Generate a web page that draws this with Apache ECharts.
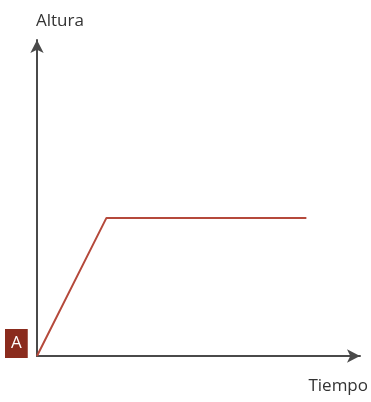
<!DOCTYPE html>
<html>
<head>
<meta charset="utf-8">
<script src="https://cdn.jsdelivr.net/npm/echarts@6/dist/echarts.min.js"></script>
<style>
  html, body { margin: 0; padding: 0; background: #fff; }
  #container { width: 371px; height: 402px; }
</style>
</head>
<body>
<div id="container"></div>
<script>
const tiempo = [0, 21.5, 83.4];
const altura = [0, 43.7, 43.7];
const puntoLabels = ['A', '', ''];

const axisColor = '#4a4a4a';
const lineColor = '#b5493b';

let chart = echarts.init(document.getElementById('container'));

let options = {
  animation: false,
  title: {
    text: 'Altura',
    left: 31,
    top: 8,
    textStyle: {
      fontFamily: 'Open Sans',
      fontWeight: 'normal',
      fontSize: 17,
      color: '#333'
    }
  },
  grid: {
    left: 37,
    right: 9,
    top: 40,
    bottom: 46
  },
  xAxis: {
    type: 'value',
    min: 0,
    max: 100,
    name: 'Tiempo',
    nameLocation: 'end',
    nameGap: 8,
    nameTextStyle: {
      fontFamily: 'Open Sans',
      fontSize: 17,
      color: '#333',
      align: 'right',
      verticalAlign: 'top',
      padding: [22, 0, 0, 0]
    },
    axisLine: {
      show: true,
      symbol: ['none', 'arrow'],
      symbolSize: [10, 13],
      lineStyle: { color: axisColor, width: 2 }
    },
    axisTick: { show: false },
    axisLabel: { show: false },
    splitLine: { show: false }
  },
  yAxis: {
    type: 'value',
    min: 0,
    max: 100,
    axisLine: {
      show: true,
      symbol: ['none', 'arrow'],
      symbolSize: [10, 13],
      lineStyle: { color: axisColor, width: 2 }
    },
    axisTick: { show: false },
    axisLabel: { show: false },
    splitLine: { show: false }
  },
  series: [
    {
      type: 'line',
      data: tiempo.map((t, i) => [t, altura[i]]),
      showSymbol: false,
      symbol: 'none',
      lineStyle: { color: lineColor, width: 2 }
    },
    {
      type: 'scatter',
      data: tiempo.map((t, i) => ({ value: [t, altura[i]], name: puntoLabels[i] }))
        .filter(d => d.name),
      symbolSize: 0,
      itemStyle: { opacity: 1 },
      label: {
        show: true,
        formatter: '{b}',
        position: [-32, -27],
        backgroundColor: '#8a2b1d',
        color: '#fff',
        fontFamily: 'Open Sans',
        fontSize: 17,
        padding: [0, 6],
        lineHeight: 29
      }
    }
  ]
};

chart.setOption(options);
</script>
</body>
</html>
